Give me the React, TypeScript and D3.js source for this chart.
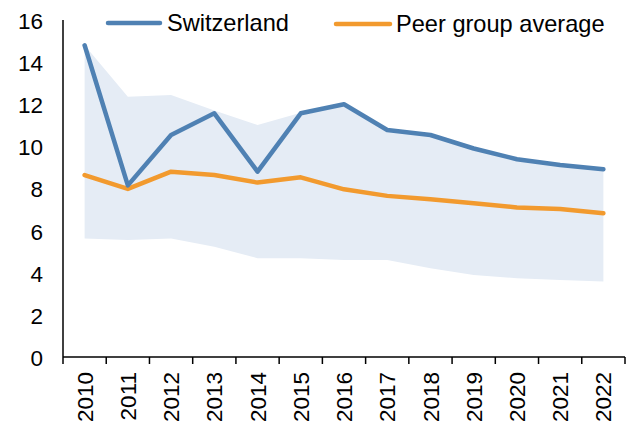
import React from "react";
import * as d3 from "d3";

const years = ["2010","2011","2012","2013","2014","2015","2016","2017","2018","2019","2020","2021","2022"];
const switzerland = [14.8, 8.15, 10.54, 11.57, 8.8, 11.57, 12.0, 10.78, 10.54, 9.9, 9.39, 9.12, 8.91];
const peerAverage = [8.64, 7.98, 8.8, 8.64, 8.28, 8.53, 7.96, 7.65, 7.49, 7.3, 7.1, 7.03, 6.82];
const rangeHigh = [14.8, 12.36, 12.44, 11.7, 11.02, 11.6, 12.0, 10.78, 10.54, 9.9, 9.39, 9.12, 8.91];
const rangeLow = [5.63, 5.56, 5.63, 5.24, 4.69, 4.69, 4.6, 4.6, 4.21, 3.89, 3.74, 3.66, 3.58];
const yTicks = [0, 2, 4, 6, 8, 10, 12, 14, 16];
const legendLabels = ["Switzerland", "Peer group average"];

const W = 629, H = 428;
const left = 63, right = 625, top = 20, bottom = 357;
const BLUE = "#4f81b3";
const ORANGE = "#f29a2e";
const BAND = "#e5ecf5";
const FONT = "Liberation Sans, Arial, sans-serif";
const FS = 22.5;
const LFS = 23.6;

export default function App() {
  const x = d3.scaleBand<string>().domain(years).range([left, right]).padding(0);
  const y = d3.scaleLinear().domain([0, 16]).range([bottom, top]);
  const cx = (i: number) => (x(years[i]) as number) + x.bandwidth() / 2;

  const area = d3.area<number>()
    .x((_, i) => cx(i))
    .y0((_, i) => y(rangeLow[i]))
    .y1((_, i) => y(rangeHigh[i]));
  const line = d3.line<number>().x((_, i) => cx(i)).y((d) => y(d));

  const boundaries = years.map((yr) => x(yr) as number).concat([right]);

  return (
    <svg width={W} height={H} style={{ position: "absolute", left: 0, top: 0, background: "#fff" }}>
      <path d={area(years.map((_, i) => i)) || ""} fill={BAND} />
      <path d={line(peerAverage) || ""} fill="none" stroke={ORANGE} strokeWidth={4.5} strokeLinejoin="round" strokeLinecap="round" />
      <path d={line(switzerland) || ""} fill="none" stroke={BLUE} strokeWidth={4.5} strokeLinejoin="round" strokeLinecap="round" />
      {/* y axis */}
      <line x1={left} x2={left} y1={top} y2={bottom} stroke="#000" strokeWidth={1.5} />
      {yTicks.map((t) => (
        <text key={t} x={left - 20} y={y(t) + 1} dy="0.35em" textAnchor="end" fontFamily={FONT} fontSize={FS} fill="#000">{t}</text>
      ))}
      {/* x axis */}
      <line x1={left} x2={right} y1={bottom} y2={bottom} stroke="#000" strokeWidth={1.5} />
      {boundaries.map((b, i) => (
        <line key={i} x1={b} x2={b} y1={bottom} y2={bottom + 7} stroke="#000" strokeWidth={1.5} />
      ))}
      {years.map((yr, i) => (
        <text key={yr} transform={`translate(${cx(i)},${bottom + 15}) rotate(-90)`} dy="0.36em" textAnchor="end" fontFamily={FONT} fontSize={FS} fill="#000">{yr}</text>
      ))}
      {/* legend */}
      <line x1={108} x2={160} y1={23} y2={23} stroke={BLUE} strokeWidth={4.5} strokeLinecap="round" />
      <text x={167} y={23} dy="0.35em" fontFamily={FONT} fontSize={LFS} fill="#000">{legendLabels[0]}</text>
      <line x1={336} x2={390} y1={24} y2={24} stroke={ORANGE} strokeWidth={4.5} strokeLinecap="round" />
      <text x={396} y={24} dy="0.35em" fontFamily={FONT} fontSize={LFS} fill="#000">{legendLabels[1]}</text>
    </svg>
  );
}
